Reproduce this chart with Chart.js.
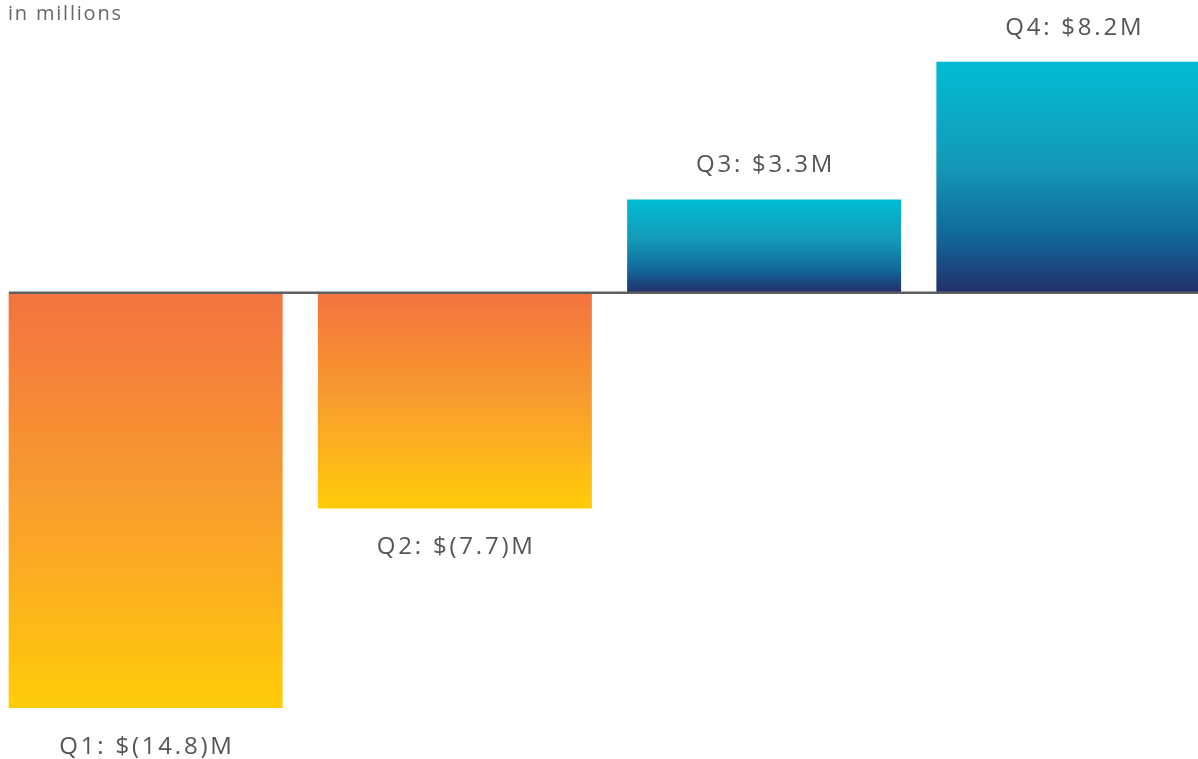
<!DOCTYPE html>
<html>
<head>
<meta charset="utf-8">
<script src="https://cdn.jsdelivr.net/npm/chart.js@4"></script>
<style>
  html, body { margin: 0; padding: 0; background: #fff; overflow: hidden; width: 1198px; height: 759px; }
  #wrap { position: absolute; left: -9px; top: 0; width: 1237px; height: 759px; }
  #note { position: absolute; left: 8px; top: 1px; font-family: "Open Sans", sans-serif; font-size: 20px; letter-spacing: 1.8px; color: #666; line-height: 24px; }
</style>
</head>
<body>
<div id="wrap"><canvas id="c" width="1237" height="759"></canvas></div>
<div id="note">in millions</div>
<script>
const categories = ["Q1", "Q2", "Q3", "Q4"];
const values = [-14.8, -7.7, 3.3, 8.2];
const valueLabels = ["Q1: $(14.8)M", "Q2: $(7.7)M", "Q3: $3.3M", "Q4: $8.2M"];
const yMin = -16.62;
const yMax = 10.40;

const negStops = [[0, "#F37340"], [0.5, "#F89D2E"], [1, "#FFCC08"]];
const posStops = [[0, "#00BCD4"], [0.45, "#1598B8"], [0.75, "#11699A"], [1, "#22306A"]];

function barColor(ctx) {
  const chart = ctx.chart;
  const area = chart.chartArea;
  if (!area || !chart.scales.y) return values[ctx.dataIndex] < 0 ? "#F89D2E" : "#1598B8";
  const v = values[ctx.dataIndex];
  const y = chart.scales.y;
  const p0 = y.getPixelForValue(0);
  const pv = y.getPixelForValue(v);
  const g = chart.ctx.createLinearGradient(0, Math.min(p0, pv), 0, Math.max(p0, pv));
  (v < 0 ? negStops : posStops).forEach(s => g.addColorStop(s[0], s[1]));
  return g;
}

const overlay = {
  id: "overlay",
  afterDatasetsDraw(chart) {
    const c = chart.ctx;
    const y = chart.scales.y;
    const p0 = y.getPixelForValue(0);
    c.save();
    c.strokeStyle = "#5e5f61";
    c.lineWidth = 2.5;
    c.beginPath();
    c.moveTo(18, p0 + 0.5);
    c.lineTo(1237, p0 + 0.5);
    c.stroke();
    const meta = chart.getDatasetMeta(0);
    c.fillStyle = "#555555";
    c.font = '24px "Open Sans", sans-serif';
    c.letterSpacing = "2.8px";
    c.textAlign = "center";
    c.textBaseline = "middle";
    meta.data.forEach((bar, i) => {
      const v = values[i];
      const ty = v < 0 ? bar.y + 39 : bar.y - 34;
      c.fillText(valueLabels[i], bar.x + 1.4, ty);
    });
    c.restore();
  }
};

new Chart(document.getElementById("c"), {
  type: "bar",
  data: {
    labels: categories,
    datasets: [{
      data: values,
      backgroundColor: barColor,
      borderWidth: 0,
      categoryPercentage: 1,
      barPercentage: 0.886
    }]
  },
  options: {
    responsive: false,
    animation: false,
    layout: { padding: 0 },
    plugins: { legend: { display: false }, tooltip: { enabled: false } },
    scales: {
      x: { display: false, offset: true },
      y: { display: false, min: yMin, max: yMax }
    }
  },
  plugins: [overlay]
});
</script>
</body>
</html>
